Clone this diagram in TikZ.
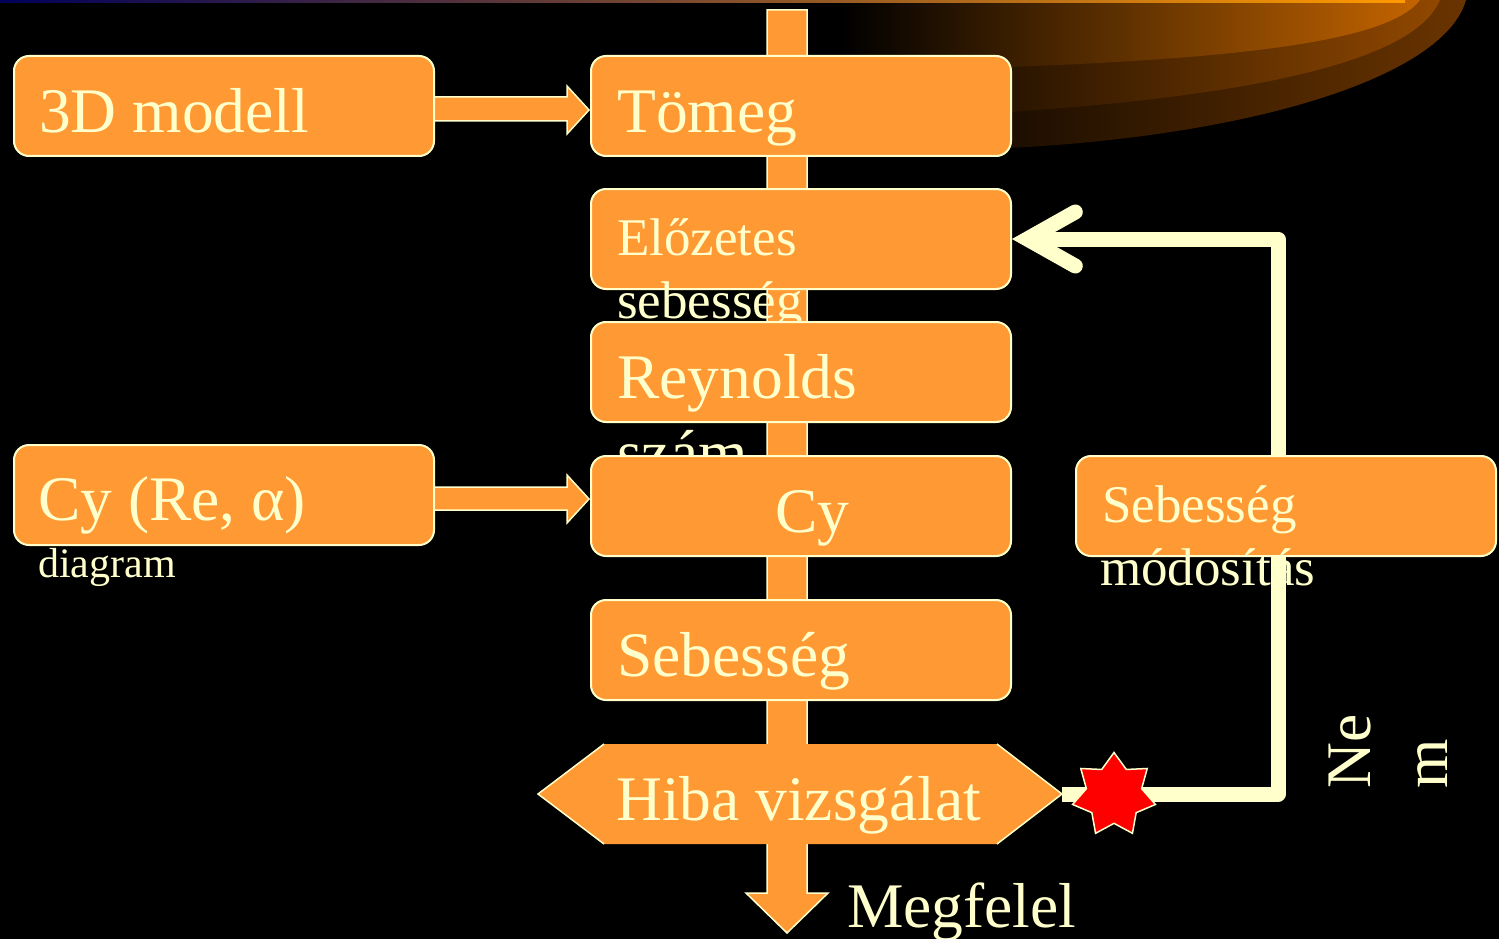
\documentclass[tikz,border=0pt]{standalone}
\usepackage{fontspec}
\setmainfont{Liberation Serif}
\usetikzlibrary{shapes.geometric,arrows.meta,calc}
\definecolor{boxor}{HTML}{FF9933}
\definecolor{cream}{HTML}{FFFFCC}
\definecolor{swA}{HTML}{C36400}
\definecolor{swB}{HTML}{914800}
\definecolor{swC}{HTML}{6A3400}
\definecolor{stripL}{HTML}{00005A}
\definecolor{stripM}{HTML}{70003C}
\definecolor{stripR}{HTML}{FF9900}
\begin{document}
\begin{tikzpicture}[x=1pt,y=-1pt,
  box/.style={draw=cream, line width=2pt, fill=boxor, rounded corners=15pt,
    minimum width=420pt, minimum height=100pt, inner sep=0pt, anchor=north west},
  txt/.style={text=cream, inner sep=0pt, anchor=base west},
  big/.style={font=\fontsize{63.5}{76}\selectfont},
  mid/.style={font=\fontsize{53}{63}\selectfont},
  sml/.style={font=\fontsize{42}{50}\selectfont},
  blockarrow/.style={draw=cream, line width=1.5pt, fill=boxor, line join=miter},
  loopline/.style={draw=cream, line width=15pt, line join=round}
]
\useasboundingbox (0,0) rectangle (1499,939);
\fill[black] (0,0) rectangle (1499,939);
% decorative swoosh
\shade[left color=black, right color=swC] (840,0) -- (1466,0) .. controls (1445,75) and (1260,135) .. (1010,148) -- (840,152) -- cycle;
\shade[left color=black, right color=swB] (840,0) -- (1440,0) .. controls (1415,60) and (1260,95) .. (1010,112) -- (840,116) -- cycle;
\shade[left color=black, right color=swA] (840,0) -- (1420,0) .. controls (1390,40) and (1250,58) .. (1010,67) -- (840,70) -- cycle;
\shade[left color=stripL, middle color=stripM, right color=stripR] (0,0) rectangle (1405,2.5);
% main vertical block arrow
\draw[blockarrow] (767,10) -- (807,10) -- (807,893) -- (828,893) -- (787,933) -- (746,893) -- (767,893) -- cycle;
% horizontal block arrows
\draw[blockarrow] (433,97) -- (567,97) -- (567,86) -- (589,110) -- (567,134) -- (567,121) -- (433,121) -- cycle;
\draw[blockarrow] (433,487) -- (567,487) -- (567,475) -- (589,499) -- (567,523) -- (567,510) -- (433,510) -- cycle;
% boxes
\node[box] (m3d) at (13,55) {};
\node[txt,big] at (39,132) {3D modell};
\node[box] (tomeg) at (590,55) {};
\node[txt,big] at (617,132) {Tömeg};
\node[box] (elo) at (590,188) {};
\node[txt,mid] at (617,255) {Előzetes};
\node[txt,mid] at (617,318) {sebesség};
\node[box] (rey) at (590,321) {};
\node[txt,big] at (617,398) {Reynolds};
\node[txt,big] at (617,474) {szám};
\node[box] (cyre) at (13,444) {};
\node[txt,big] at (38,520) {Cy (Re, α)};
\node[txt,sml] at (38,577) {diagram};
\node[box] (cy) at (590,455) {};
\node[txt,big] at (775,532) {Cy};
\node[box] (seb) at (590,599) {};
\node[txt,big] at (617,676) {Sebesség};
\node[box] (mod) at (1075,455) {};
\node[txt,mid] at (1102,522) {Sebesség};
\node[txt,mid] at (1100,585) {módosítás};
% Hiba vizsgalat hexagon
\fill[boxor] (538,794) -- (604,744) -- (997,744) -- (1062,794) -- (997,844) -- (604,844) -- cycle;
\draw[cream, line width=1.5pt] (604,744) -- (538,794) -- (604,844);
\draw[cream, line width=1.5pt] (997,744) -- (1062,794) -- (997,844);
\coordinate (hibaR) at (1062,794);
\node[txt,big] at (616,820) {Hiba vizsgálat};
\node[txt,big] at (847,927) {Megfelel};
% feedback loop
\draw[loopline] (hibaR) -| ([xshift=-8pt]mod.south);
\node[star, star points=7, star point ratio=1.5, minimum size=85pt, inner sep=0pt,
  fill=red, draw=cream, line width=1.5pt] (star) at (1114,795) {};
\draw[loopline, -{Straight Barb[length=48pt,width=54pt,line cap=round]}] ([xshift=-8pt]mod.north) |- (elo.east);
\node[txt,big,rotate=90] at (1370,789) {Ne};
\node[txt,big,rotate=90] at (1447,789) {m};
\end{tikzpicture}
\end{document}
